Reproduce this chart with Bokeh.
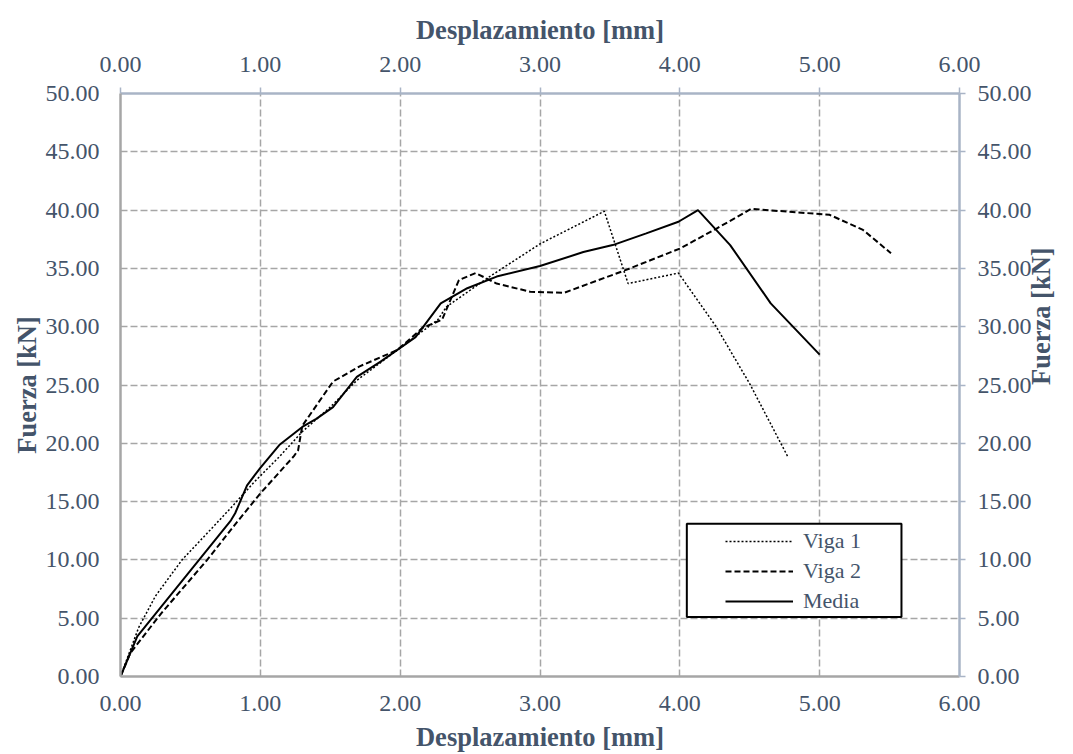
import math
from bokeh.plotting import figure
from bokeh.models import (LinearAxis, FixedTicker, NumeralTickFormatter, Range1d,
                          Legend, LegendItem, BoxAnnotation)
from bokeh.embed import file_html
from bokeh.resources import INLINE

# ---- data ----
viga1_x = [0, 0.13, 0.25, 0.44, 0.66, 0.80, 0.95, 1.14, 1.30, 1.50, 1.69, 1.98, 2.27, 2.33,
           2.64, 3.00, 3.46, 3.63, 3.99, 4.26, 4.50, 4.77]
viga1_y = [0, 4.2, 6.9, 10.0, 12.8, 14.6, 16.6, 18.9, 21.0, 23.1, 25.4, 28.0, 30.6, 31.7,
           34.3, 37.1, 39.9, 33.7, 34.6, 30.0, 25.1, 18.9]

viga2_x = [0, 0.07, 0.29, 0.62, 0.83, 1.00, 1.24, 1.27, 1.30, 1.52, 1.71, 1.98, 2.16, 2.30,
           2.42, 2.54, 2.69, 2.93, 3.17, 3.60, 4.00, 4.26, 4.51, 5.07, 5.31, 5.51]
viga2_y = [0, 2.0, 5.4, 10.0, 13.2, 15.7, 18.9, 19.4, 21.5, 25.3, 26.6, 28.0, 29.9, 30.6,
           34.0, 34.6, 33.7, 33.0, 32.9, 34.8, 36.7, 38.4, 40.1, 39.6, 38.3, 36.3]

media_x = [0, 0.12, 0.79, 0.82, 0.905, 1.00, 1.14, 1.30, 1.40, 1.52, 1.69, 1.86, 2.11, 2.29,
           2.48, 2.69, 3.00, 3.31, 3.52, 3.76, 3.99, 4.13, 4.36, 4.65, 5.00]
media_y = [0, 3.45, 13.4, 14.0, 16.4, 17.9, 19.9, 21.4, 22.1, 23.1, 25.7, 27.0, 29.1, 32.0,
           33.3, 34.3, 35.2, 36.4, 37.0, 38.0, 39.0, 40.0, 37.0, 32.0, 27.6]

x_ticks = [0, 1, 2, 3, 4, 5, 6]
y_ticks = [0, 5, 10, 15, 20, 25, 30, 35, 40, 45, 50]
x_title = "Desplazamiento [mm]"
y_title = "Fuerza [kN]"
series_names = ["Viga 1", "Viga 2", "Media"]

# ---- style ----
FONT = "Liberation Serif"
TXT = "#44546a"
GRID = "#a6a6a6"
TICK_SIZE = "24px"
TITLE_SIZE = "26.5px"

p = figure(width=1073, height=754, output_backend="svg", toolbar_location=None,
           x_range=Range1d(0, 6), y_range=Range1d(0, 50),
           x_axis_location=None, y_axis_location=None,
           min_border_left=120, min_border_right=113, min_border_top=93, min_border_bottom=77)
p.outline_line_color = None
p.background_fill_color = "white"
p.border_fill_color = "white"

p.xgrid.ticker = FixedTicker(ticks=x_ticks)
p.ygrid.ticker = FixedTicker(ticks=y_ticks)
for g in (p.xgrid, p.ygrid):
    g.grid_line_color = GRID
    g.grid_line_dash = "7 3"
    g.grid_line_width = 1.5


def make_axis(ticks, label, line_color, tick_out, standoff, label_standoff):
    ax = LinearAxis(ticker=FixedTicker(ticks=ticks),
                    formatter=NumeralTickFormatter(format="0.00"),
                    axis_label=label)
    ax.axis_line_color = line_color
    ax.axis_line_width = 2.5
    ax.major_tick_line_color = line_color
    ax.major_tick_line_width = 1.5
    ax.major_tick_out = tick_out
    ax.major_tick_in = 0
    ax.minor_tick_line_color = None
    ax.major_label_text_font = FONT
    ax.major_label_text_font_size = TICK_SIZE
    ax.major_label_text_color = TXT
    ax.major_label_standoff = standoff
    ax.axis_label_text_font = FONT
    ax.axis_label_text_font_size = TITLE_SIZE
    ax.axis_label_text_font_style = "bold"
    ax.axis_label_text_color = TXT
    ax.axis_label_standoff = label_standoff
    return ax


p.add_layout(make_axis(x_ticks, x_title, "#a6a6a6", 0, 19, 8), "below")
p.add_layout(make_axis(x_ticks, x_title, "#a9b4c6", 6, 16, 9), "above")
p.add_layout(make_axis(y_ticks, y_title, "#a6a6a6", 0, 21, 1), "left")
right_axis = make_axis(y_ticks, y_title, "#a9b4c6", 6, 12, 6)
if "axis_label_orientation" in LinearAxis.properties():
    # read bottom-to-top, like the left title
    right_axis.axis_label_orientation = math.pi / 2
p.add_layout(right_axis, "right")

r1 = p.line(viga1_x, viga1_y, line_color="black", line_width=1.5, line_dash="2 2")
r2 = p.line(viga2_x, viga2_y, line_color="black", line_width=2, line_dash="6 3")
r3 = p.line(media_x, media_y, line_color="black", line_width=2)

# legend frame (lower right of the plot area)
box = BoxAnnotation(left=4.05, right=5.585, bottom=5.1, top=13.1,
                    fill_color="white", fill_alpha=1.0,
                    line_color="black", line_alpha=1.0, line_width=2)
p.add_layout(box)

legend = Legend(items=[LegendItem(label=series_names[0], renderers=[r1]),
                       LegendItem(label=series_names[1], renderers=[r2]),
                       LegendItem(label=series_names[2], renderers=[r3])],
                location=(605, 60), padding=0, margin=0, spacing=0,
                glyph_width=68, glyph_height=30, label_height=30, label_standoff=10,
                border_line_color=None, background_fill_alpha=0,
                label_text_font=FONT, label_text_font_size="22px", label_text_color=TXT)
p.add_layout(legend)

open("out.html", "w").write(file_html(p, INLINE))
